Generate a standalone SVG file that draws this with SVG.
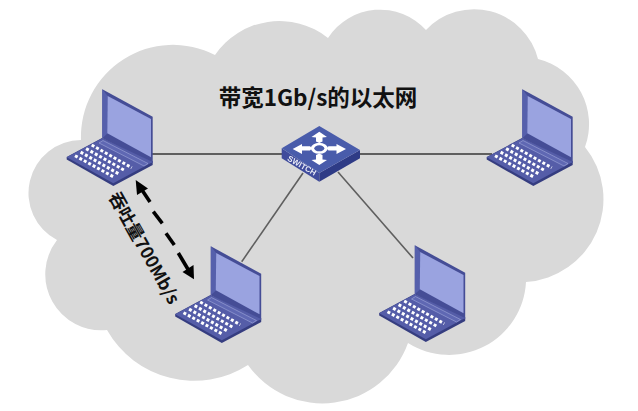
<svg xmlns="http://www.w3.org/2000/svg" xmlns:xlink="http://www.w3.org/1999/xlink" width="638" height="411" viewBox="0 0 638 411">
<style>
.link{stroke:#5f5f5f;fill:none}
.t{font-family:"Noto Sans CJK SC","Liberation Sans",sans-serif;font-weight:700;fill:#111}
.keys{stroke:#fff;stroke-width:3;stroke-dasharray:3 2.05;fill:none}
.flow{stroke:#000;stroke-width:3.6;fill:none}
</style>
<defs>
<filter id="soft" x="-5%" y="-5%" width="110%" height="110%"><feGaussianBlur stdDeviation="0.4"/></filter>
<g id="laptop">
<path d="M11.3 97L-35.3 70.5V68L0 49 50.7 72 50.7 76Z" fill="#363d80"/>
<path d="M0.3 0.3L50.7 27.7V74.3L0.3 49.3Z" fill="#454d96"/>
<path d="M0.3 0.3L5.7 7V44.3L0.3 49.3Z" fill="#5660ac"/>
<path d="M5.7 7L49 30V68.3L5.3 44.3Z" fill="#9aa3e0"/>
<path d="M-35.3 68.3L0.3 49.3 50.7 73 11.3 94.3Z" fill="#545da8"/>
<path d="M-3 54L1 51.5 46 74.5 42 77Z" fill="#5f68b3" stroke="#a2a9dc" stroke-width="0.6"/>
<g class="keys">
<path d="M-10.3 56L29.7 78.7"/>
<path d="M-15.9 59.6L23 81.7"/>
<path d="M-21.4 63.1L17 85"/>
<path d="M-27 66.7L11.3 87.7"/>
</g>
</g>
</defs>
<rect width="638" height="411" fill="#fff"/>
<path id="cloud" fill="#d9d9d9" d="M81 140A92 92 0 0 1 215 55A78 78 0 0 1 328 38A62 62 0 0 1 426 30A66 66 0 0 1 538 59A67 67 0 0 1 585 147A83 83 0 0 1 526 282A77 77 0 0 1 408 343A91 91 0 0 1 248 365A100 100 0 0 1 107 330A56 56 0 0 1 57 240A53 53 0 0 1 81 140Z"/>
<g id="connectors" filter="url(#soft)">
<path class="link" stroke-width="2" d="M152 154H285"/>
<path class="link" stroke-width="2" d="M358 154H492"/>
<path class="link" stroke-width="1.6" d="M303 173L241.7 261.7"/>
<path class="link" stroke-width="1.6" d="M338 172L413 258"/>
<g id="flow">
<path class="flow" d="M150 202L141 188.5"/>
<path d="M135.7 180L148 188.5 137 195Z" fill="#000"/>
<path class="flow" d="M153.3 211.7L162.3 223.3"/>
<path class="flow" d="M166 233.3L174.3 245"/>
<path class="flow" d="M178.3 253L189 271"/>
<path d="M194 279.3L182.5 272 193.5 265Z" fill="#000"/>
</g>
</g>
<g id="laptop-1" filter="url(#soft)"><use xlink:href="#laptop" href="#laptop" x="102" y="89"/></g>
<g id="laptop-2" filter="url(#soft)"><use xlink:href="#laptop" href="#laptop" x="210.5" y="246"/></g>
<g id="laptop-3" filter="url(#soft)"><use xlink:href="#laptop" href="#laptop" x="414.5" y="245"/></g>
<g id="laptop-4" filter="url(#soft)"><use xlink:href="#laptop" href="#laptop" x="522" y="89"/></g>
<g id="switch" filter="url(#soft)">
<path d="M281.7 148.3V158.3L319.3 181.7V173Z" fill="#3f4c9c"/>
<path d="M360 150V158.3L319.3 181.7V173Z" fill="#2f3a86"/>
<path d="M319.3 126L281.7 148.3 319.3 173 360 150Z" fill="#4a5cab"/>
<path fill="#fff" d="M319.3 131.7L327 137 322.5 137.5 322.5 141.5 319.3 143 316 141.5 316 137.5 311.5 137Z"/>
<path fill="#fff" d="M319.3 165L327 160 322.5 159.5 322.5 155 319.3 153.5 316 155 316 159.5 311.5 160Z"/>
<path fill="#fff" d="M292.7 149L302 144 302 146.3 310 146.3 312 148.3 310 150.5 302 150.5 302 154Z"/>
<path fill="#fff" d="M346 149L336.5 144 336.5 146.3 328.5 146.3 326.5 148.3 328.5 150.5 336.5 150.5 336.5 154Z"/>
<ellipse cx="319.3" cy="148.3" rx="8.5" ry="5.5" fill="#fff"/>
<ellipse cx="319.3" cy="148.3" rx="5" ry="3" fill="#4a5cab"/>
<text transform="translate(300.5 168) rotate(30)" text-anchor="middle" font-family="Liberation Sans, sans-serif" font-weight="700" font-size="8" fill="#e8eaf6">SWITCH</text>
</g>
<text id="title" class="t" x="318" y="106" text-anchor="middle" font-size="22.5">带宽1Gb/s的以太网</text>
<text id="rate" class="t" transform="translate(144 248) rotate(60.7)" y="6" text-anchor="middle" font-size="17.5">吞吐量700Mb/s</text>
</svg>
